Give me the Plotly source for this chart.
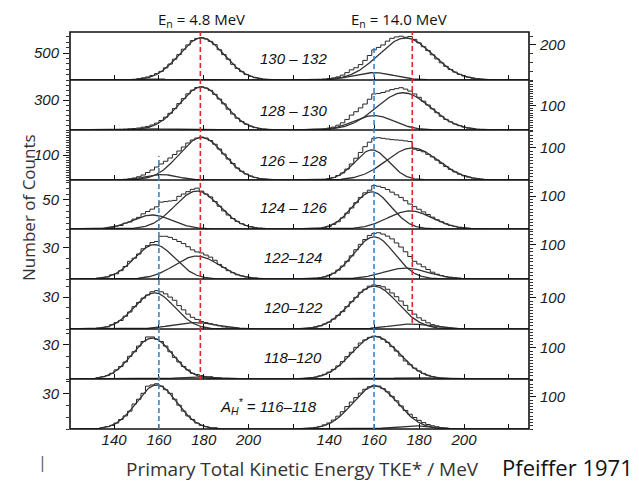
import numpy as np
import plotly.graph_objects as go

# page body has an 8 px margin, so the figure is drawn 8 px in from the window edge
OFF = 8
W, H = 639 - OFF, 482 - OFF
FRAME_L, FRAME_R, COL_SPLIT = 70, 529, 296
ROW_EDGES = [32, 80, 130, 180, 229, 279, 329, 379, 429]
X_RANGE = [[120.3, 221.2], [125.3, 228.9]]
BIN = 2.0

# ---------------- data ----------------
panel_labels = ["130 – 132", "128 – 130", "126 – 128", "124 – 126",
                "122–124", "120–122", "118–120",
                "A<sub>H</sub><sup>*</sup> = 116–118"]
label_px = [(258, 58), (258, 110), (258, 160), (258, 208),
            (262, 257), (262, 307), (262, 357), (218, 406)]

x_ticks = [140, 160, 180, 200, 220]
x_ticktext = ["140", "160", "180", "200", ""]

left_ytick = [500, 300, 100, 50, 30, 30, 30, 30]
left_ymax = [889, 500, 200, 84, 48, 47, 44, 42]
left_minor = [100, 50, 10, 10, 10, 10, 10, 10]
right_ytick = [200, 100, 100, 100, 100, 100, 100, 100]
right_ymax = [274, 208, 156, 149, 147, 161, 161, 156]
right_minor = [50, 10, 10, 10, 10, 10, 10, 10]

# histogram: first bin centre (MeV), counts in 2 MeV bins
left_hist_start = [143, 141, 145, 137, 131, 133, 133, 135]
left_hist = [
    [2, 4, 8, 14, 24, 38, 56, 84, 118, 160, 225, 295, 385, 470, 570, 650, 730, 770, 785, 760,
     715, 655, 560, 470, 385, 290, 215, 155, 100, 68, 42, 26, 15, 8, 4],
    [4, 6, 8, 11, 15, 20, 28, 36, 50, 69, 95, 128, 167, 214, 264, 314, 362, 398, 425, 432,
     420, 396, 356, 310, 262, 208, 160, 118, 84, 58, 38, 24, 15, 9, 5],
    [3, 5, 8, 13, 20, 30, 40, 52, 64, 75, 88, 102, 116, 132, 148, 160, 168, 172, 168, 158,
     143, 124, 104, 84, 66, 48, 35, 24, 16, 10, 6, 3, 2],
    [1, 3, 5, 6, 10, 12, 17, 20, 26, 30, 34, 38, 46, 47, 48, 49, 56, 60, 64, 68,
     70, 65, 60, 55, 47, 39, 31, 24, 18, 13, 9, 6, 4, 2, 1],
    [0, 1, 1, 2, 4, 5, 8, 12, 17, 20, 24, 29, 32, 35, 36, 41, 41, 40, 38, 36,
     34, 31, 28, 26, 25, 23, 21, 18, 14, 11, 8, 6, 4, 3, 2, 1, 1],
    [1, 1, 2, 4, 6, 8, 12, 16, 21, 25, 29, 32, 35, 36, 35, 33, 30, 27, 22, 18,
     14, 11, 9, 7, 6, 5, 4, 3, 2, 1, 1, 1],
    [1, 2, 3, 5, 8, 11, 15, 20, 24, 29, 33, 37, 37, 35, 33, 29, 24, 19, 15, 11,
     8, 5, 4, 3, 2, 2, 1, 1],
    [1, 2, 3, 5, 8, 11, 15, 21, 25, 30, 36, 37, 38, 36, 33, 30, 25, 20, 15, 11,
     8, 5, 3, 2, 1, 1],
]
right_hist_start = [136, 136, 136, 136, 132, 130, 130, 130]
right_hist = [
    [3, 5, 8, 12, 18, 28, 42, 58, 70, 88, 112, 140, 172, 186, 200, 222, 238, 246, 250, 244,
     248, 232, 212, 190, 168, 144, 120, 98, 78, 60, 45, 32, 23, 16, 10, 7, 4, 3, 1],
    [2, 4, 8, 12, 20, 30, 44, 62, 76, 92, 108, 128, 150, 152, 156, 162, 168, 172, 176, 170,
     162, 150, 136, 120, 104, 88, 72, 57, 44, 34, 25, 18, 12, 8, 5, 3, 2, 1],
    [1, 2, 4, 8, 14, 22, 34, 50, 68, 86, 104, 118, 130, 132, 130, 128, 126, 125, 124, 122,
     120, 96, 92, 88, 80, 72, 62, 52, 42, 33, 25, 18, 13, 9, 6, 4, 2, 1],
    [2, 4, 8, 14, 22, 34, 48, 64, 80, 96, 110, 118, 132, 130, 126, 120, 112, 104, 96, 86,
     76, 68, 60, 52, 44, 36, 28, 22, 16, 11, 8, 5, 3, 2, 1],
    [1, 2, 4, 6, 11, 17, 26, 38, 52, 68, 86, 102, 116, 128, 134, 136, 132, 126, 118, 106,
     94, 80, 66, 52, 44, 36, 28, 20, 14, 10, 7, 5, 3, 2, 1],
    [2, 4, 6, 10, 16, 22, 32, 44, 56, 72, 88, 102, 118, 128, 138, 142, 140, 136, 128, 116,
     104, 90, 76, 60, 48, 36, 28, 20, 14, 10, 7, 5, 3, 2, 1],
    [2, 4, 6, 10, 15, 22, 31, 42, 56, 72, 86, 102, 116, 126, 134, 138, 136, 128, 118, 104,
     90, 74, 58, 46, 35, 26, 18, 12, 8, 5, 3, 2, 1],
    [2, 3, 5, 8, 13, 19, 28, 40, 54, 70, 84, 98, 112, 124, 132, 136, 134, 126, 116, 102,
     88, 72, 58, 46, 36, 27, 20, 14, 10, 7, 4, 3, 1],
]

# fitted gaussian components: (centre MeV, sigma MeV, height counts)
left_fits = [
    [(179, 10, 780), (158, 8, 20)],
    [(179, 10, 430), (155, 9, 12)],
    [(179, 10, 170), (161, 7, 22)],
    [(177, 10, 65), (157, 9, 24)],
    [(158, 9, 33), (177, 10, 22)],
    [(158, 9, 34), (176, 10, 6)],
    [(157, 9, 36), (178, 8, 2)],
    [(159, 9, 37)],
]
right_fits = [
    [(174, 12, 240), (160, 9, 42)],
    [(173, 12, 155), (160, 9, 60)],
    [(159, 7.5, 94), (177, 11.5, 100)],
    [(159, 8.5, 113), (176, 10, 55)],
    [(160, 9, 124), (174, 10, 32)],
    [(160, 10.5, 138), (176, 9, 16)],
    [(160.5, 10.5, 137), (178, 9, 4)],
    [(160.5, 10, 134), (177, 8, 10)],
]

# dashed reference lines: (column, energy MeV, top px, bottom px, colour)
ref_lines = [
    (0, 178.5, 32, 380, "#e3262b"),
    (0, 160.0, 156, 429, "#3c86c4"),
    (1, 160.0, 48, 429, "#3c86c4"),
    (1, 177.0, 32, 323, "#e3262b"),
]

# ---------------- figure ----------------
fig = go.Figure()
TICKFONT = dict(family="Liberation Sans", size=15, color="#1a1a1a", style="italic")


def ax_names(n):
    return ("x" if n == 1 else f"x{n}"), ("y" if n == 1 else f"y{n}")


def px_x(p):
    return (p - OFF) / W


def px_y(p):
    return 1 - (p - OFF) / H


col_px = [(FRAME_L, COL_SPLIT), (COL_SPLIT, FRAME_R)]
layout_axes = {}
for r in range(8):
    for c in range(2):
        n = r * 2 + c + 1
        xr, yr = ax_names(n)
        hist_start = (left_hist_start, right_hist_start)[c][r]
        hist = (left_hist, right_hist)[c][r]
        fits = (left_fits, right_fits)[c][r]
        ymax = (left_ymax, right_ymax)[c][r]
        ytick = (left_ytick, right_ytick)[c][r]
        minor = (left_minor, right_minor)[c][r]

        # histogram steps
        centres = hist_start + BIN * np.arange(len(hist))
        edges = list(centres - BIN / 2) + [centres[-1] + BIN / 2]
        hx = [edges[0]] + edges + [edges[-1]]
        hy = [0] + list(hist) + [hist[-1], 0]
        fig.add_trace(go.Scatter(x=hx, y=hy, mode="lines", line_shape="hv",
                                 xaxis=xr, yaxis=yr,
                                 line=dict(color="#262626", width=1.0),
                                 hoverinfo="skip"))
        # fitted components
        xs = np.linspace(X_RANGE[c][0], X_RANGE[c][1], 400)
        for mu, sg, amp in fits:
            ys = amp * np.exp(-0.5 * ((xs - mu) / sg) ** 2)
            fig.add_trace(go.Scatter(x=xs, y=ys, mode="lines", xaxis=xr, yaxis=yr,
                                     line=dict(color="#333333", width=1.3),
                                     hoverinfo="skip"))

        top, bot = ROW_EDGES[r], ROW_EDGES[r + 1]
        xkey = "xaxis" if n == 1 else f"xaxis{n}"
        ykey = "yaxis" if n == 1 else f"yaxis{n}"
        layout_axes[xkey] = dict(
            domain=[px_x(col_px[c][0]), px_x(col_px[c][1])], range=X_RANGE[c],
            anchor=yr, showgrid=False, zeroline=False, showline=False,
            ticks="inside", ticklen=5, tickwidth=1.2, tickcolor="#111",
            tickmode="array", tickvals=x_ticks, ticktext=x_ticktext,
            showticklabels=(r == 7), tickfont=TICKFONT, fixedrange=True)
        layout_axes[ykey] = dict(
            domain=[px_y(bot), px_y(top)], range=[0, ymax], anchor=xr,
            side="left" if c == 0 else "right",
            showgrid=False, zeroline=False, showline=False,
            tickmode="array", tickvals=[ytick], ticktext=[str(ytick)],
            ticks="outside", ticklen=6, tickwidth=1.2, tickcolor="#111",
            minor=dict(tickmode="linear", tick0=0, dtick=minor, ticks="outside",
                       ticklen=3, tickwidth=1, tickcolor="#333"),
            tickfont=TICKFONT, ticklabelstandoff=1, fixedrange=True)

fig.update_layout(**layout_axes)

shapes = [dict(type="rect", xref="paper", yref="paper",
               x0=px_x(FRAME_L), x1=px_x(FRAME_R), y0=px_y(ROW_EDGES[-1]), y1=px_y(ROW_EDGES[0]),
               line=dict(color="#111", width=1.6))]
for e in ROW_EDGES[1:-1]:
    shapes.append(dict(type="line", xref="paper", yref="paper",
                       x0=px_x(FRAME_L), x1=px_x(FRAME_R), y0=px_y(e), y1=px_y(e),
                       line=dict(color="#111", width=1.6)))
for c, e, t, b, colr in ref_lines:
    shapes.append(dict(type="line", xref="x" if c == 0 else "x2", yref="paper",
                       x0=e, x1=e, y0=px_y(b), y1=px_y(t),
                       line=dict(color=colr, width=1.6, dash="5px,3px")))

ann = []
for txt, (lx, ly) in zip(panel_labels, label_px):
    ann.append(dict(text=txt, xref="paper", yref="paper", x=px_x(lx), y=px_y(ly),
                    xanchor="left", yanchor="middle", showarrow=False,
                    font=dict(family="Liberation Sans", size=15, color="#111", style="italic")))
TEXTFONT = "Open Sans"


def txt_ann(text, x, y, size, color="#111", angle=0):
    return dict(text=text, x=px_x(x), y=px_y(y), xref="paper", yref="paper",
                xanchor="center", yanchor="middle", showarrow=False, textangle=angle,
                borderpad=0, font=dict(family=TEXTFONT, size=size, color=color))


ann += [
    txt_ann("E<sub>n</sub> = 4.8 MeV", 202, 20, 15),
    txt_ann("E<sub>n</sub> = 14.0 MeV", 399, 20, 15),
    txt_ann("Number of Counts", 29, 208, 17, "#333", -90),
    txt_ann("Primary Total Kinetic Energy TKE* / MeV", 302, 469, 19, "#333"),
    txt_ann("Pfeiffer 1971", 567, 467, 22),
    txt_ann("|", 42, 462, 16, "#555"),
]

fig.update_layout(width=W, height=H, margin=dict(l=0, r=0, t=0, b=0),
                  paper_bgcolor="white", plot_bgcolor="white", showlegend=False,
                  shapes=shapes, annotations=ann)
fig.write_html("out.html")
